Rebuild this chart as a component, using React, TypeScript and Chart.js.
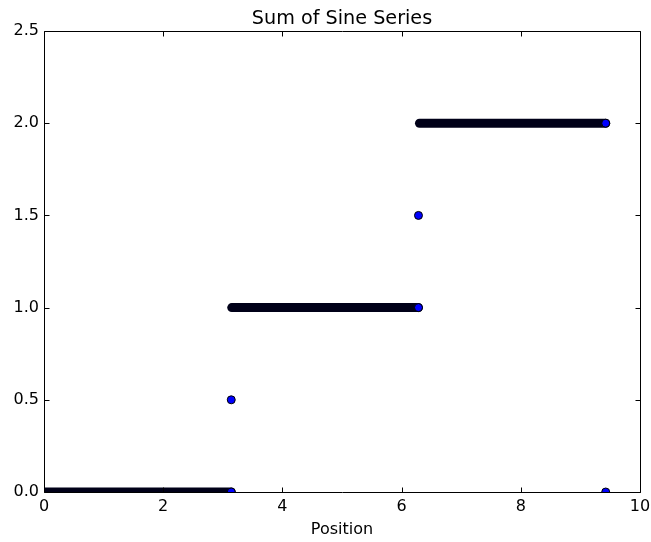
import React, { useEffect, useRef } from 'react';
import { Chart, registerables } from 'chart.js';

Chart.register(...registerables);

// ---- data ----
const xTickLabels = ['0', '2', '4', '6', '8', '10'];
const yTickLabels = ['0.0', '0.5', '1.0', '1.5', '2.0', '2.5'];

// dense runs of points (drawn as thick bands)
const bandStartX = [0, 3.15, 6.3];
const bandEndX = [3.1416, 6.2832, 9.4248];
const bandY = [0, 1, 2];

// individually visible points
const pointX = [3.1416, 3.1416, 6.2832, 6.2832, 9.4248, 9.4248];
const pointY = [0, 0.5, 1, 1.5, 2, 0];

const FONT = 'DejaVu Sans';

export default function App() {
  const ref = useRef<HTMLCanvasElement>(null);

  useEffect(() => {
    const canvas = ref.current;
    if (!canvas) return;

    const framePlugin = {
      id: 'mplFrame',
      afterDatasetsDraw(chart: any) {
        const { ctx, chartArea: a, scales } = chart;
        const L = Math.round(a.left) + 0.5;
        const R = Math.round(a.right) + 0.5;
        const T = Math.round(a.top) + 0.5;
        const B = Math.round(a.bottom) + 0.5;
        const len = 5;
        ctx.save();
        ctx.strokeStyle = '#000';
        ctx.lineWidth = 1;
        ctx.beginPath();
        ctx.rect(L, T, R - L, B - T);
        ctx.stroke();
        ctx.beginPath();
        for (const t of scales.x.ticks) {
          const px = Math.round(scales.x.getPixelForValue(t.value)) + 0.5;
          ctx.moveTo(px, B);
          ctx.lineTo(px, B - len);
          ctx.moveTo(px, T);
          ctx.lineTo(px, T + len);
        }
        for (const t of scales.y.ticks) {
          const py = Math.round(scales.y.getPixelForValue(t.value)) + 0.5;
          ctx.moveTo(L, py);
          ctx.lineTo(L + len, py);
          ctx.moveTo(R, py);
          ctx.lineTo(R - len, py);
        }
        ctx.stroke();
        ctx.restore();
      },
    };

    const bandDatasets = bandY.map((y, i) => ({
      label: 'band' + i,
      data: [
        { x: bandStartX[i], y },
        { x: bandEndX[i], y },
      ],
      showLine: true,
      borderColor: '#000018',
      borderWidth: 9,
      borderCapStyle: 'round' as const,
      pointRadius: 0,
      pointHoverRadius: 0,
      clip: 0,
    }));

    const pointDataset = {
      label: 'points',
      data: pointX.map((x, i) => ({ x, y: pointY[i] })),
      showLine: false,
      backgroundColor: '#0000ff',
      borderColor: '#000000',
      borderWidth: 1,
      pointRadius: 4,
      pointHoverRadius: 4,
      clip: 0,
    };

    const chart = new Chart(canvas, {
      type: 'scatter',
      data: { datasets: [pointDataset, ...bandDatasets] as any },
      options: {
        responsive: false,
        animation: false,
        devicePixelRatio: 1,
        events: [],
        layout: { padding: { left: 0, right: 11, top: 0, bottom: 0 } },
        plugins: {
          legend: { display: false },
          tooltip: { enabled: false },
          title: {
            display: true,
            text: 'Sum of Sine Series',
            color: '#000',
            font: { family: FONT, size: 19.2, weight: 'normal' },
            padding: { top: 7, bottom: 1 },
            fullSize: false,
          },
        },
        scales: {
          x: {
            type: 'linear',
            position: 'bottom',
            min: 0,
            max: 10,
            grid: { display: false, drawTicks: false },
            border: { display: false },
            ticks: {
              stepSize: 2,
              autoSkip: false,
              maxRotation: 0,
              padding: 5,
              color: '#000',
              font: { family: FONT, size: 16 },
              callback: (_v: any, i: number) => xTickLabels[i],
            },
            title: {
              display: true,
              text: 'Position',
              color: '#000',
              font: { family: FONT, size: 16 },
              padding: { top: 0, bottom: 3 },
            },
            afterFit: (s: any) => {
              s.height = 50;
              s.paddingLeft = 0;
              s.paddingRight = 0;
            },
          },
          y: {
            type: 'linear',
            min: 0,
            max: 2.5,
            grid: { display: false, drawTicks: false },
            border: { display: false },
            ticks: {
              stepSize: 0.5,
              autoSkip: false,
              padding: 5,
              color: '#000',
              font: { family: FONT, size: 16 },
              callback: (_v: any, i: number) => yTickLabels[i],
            },
            afterFit: (s: any) => {
              s.width = 44;
              s.paddingTop = 0;
              s.paddingBottom = 0;
            },
          },
        },
      },
      plugins: [framePlugin],
    });

    return () => chart.destroy();
  }, []);

  return (
    <div style={{ position: 'absolute', left: 0, top: 0, width: 651, height: 542, background: '#fff' }}>
      <canvas ref={ref} width={651} height={542} style={{ display: 'block' }} />
    </div>
  );
}
